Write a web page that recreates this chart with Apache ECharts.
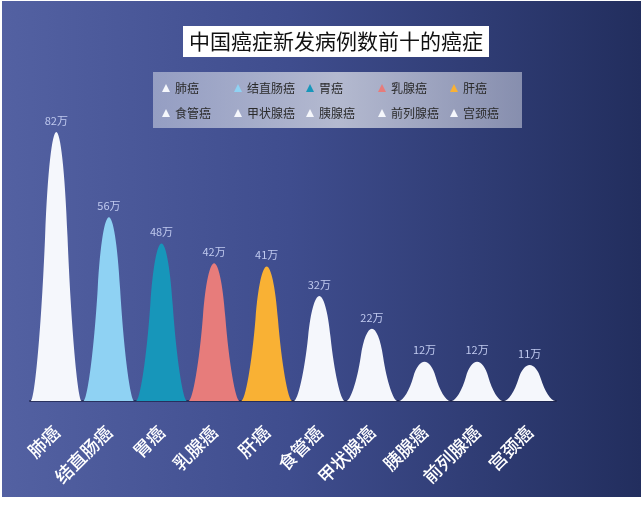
<!DOCTYPE html>
<html>
<head>
<meta charset="utf-8">
<script src="https://cdn.jsdelivr.net/npm/echarts@6/dist/echarts.min.js"></script>
<style>
html,body{margin:0;padding:0;background:#ffffff;}
#main{width:643px;height:507px;}
</style>
</head>
<body>
<div id="main"></div>
<script>
const titleText = '中国癌症新发病例数前十的癌症';
const categories = ['肺癌','结直肠癌','胃癌','乳腺癌','肝癌','食管癌','甲状腺癌','胰腺癌','前列腺癌','宫颈癌'];
const values = [82, 56, 48, 42, 41, 32, 22, 12, 12, 11];
const colors = ['#f5f7fc','#8fd2f3','#1796ba','#e77c7b','#f9b134','#f5f7fc','#f5f7fc','#f5f7fc','#f5f7fc','#f5f7fc'];
const unit = '万';

const bell = 'path://M0,100 C8,100 21,72 28,39 C33,14 42,0 50,0 C58,0 67,14 72,39 C79,72 92,100 100,100 Z';

const chart = echarts.init(document.getElementById('main'), null, {renderer:'canvas'});

const series = categories.map((name, i) => ({
  name: name,
  type: 'pictorialBar',
  symbol: bell,
  barCategoryGap: '3%',
  barGap: '-100%',
  itemStyle: { color: colors[i] },
  label: {
    show: true,
    position: 'top',
    distance: 6,
    color: '#c0caef',
    fontSize: 11,
    fontFamily: 'Noto Sans CJK SC',
    formatter: '{c}' + unit
  },
  data: categories.map((c, j) => (j === i ? values[i] : '-'))
}));

chart.setOption({
  animation: false,
  textStyle: { fontFamily: 'Noto Sans CJK SC' },
  graphic: [{
    type: 'rect',
    z: -100,
    silent: true,
    shape: { x: 2, y: 1, width: 639, height: 496 },
    style: {
      fill: new echarts.graphic.LinearGradient(0, 0, 1, 0, [
        { offset: 0, color: '#5361a2' },
        { offset: 0.45, color: '#3f4d8e' },
        { offset: 1, color: '#222e5e' }
      ])
    }
  }],
  title: {
    text: titleText,
    left: 183,
    top: 26,
    padding: [3, 6, 3, 6],
    backgroundColor: '#ffffff',
    textStyle: {
      color: '#111111',
      fontSize: 21,
      lineHeight: 25,
      fontWeight: 'normal',
      fontFamily: 'Noto Sans CJK SC'
    }
  },
  legend: {
    left: 153,
    top: 72,
    width: 355,
    padding: [9, 11, 8, 9],
    itemGap: 11,
    itemWidth: 8,
    itemHeight: 8,
    icon: 'triangle',
    data: categories,
    backgroundColor: new echarts.graphic.LinearGradient(0, 0, 1, 0, [
      { offset: 0, color: 'rgba(200,206,224,0.6)' },
      { offset: 0.5, color: 'rgba(218,221,230,0.76)' },
      { offset: 1, color: 'rgba(200,204,220,0.58)' }
    ]),
    textStyle: {
      color: '#2a2a2a',
      fontSize: 12,
      lineHeight: 14,
      width: 48,
      fontFamily: 'Noto Sans CJK SC'
    }
  },
  grid: { left: 30, right: 87, top: 73, bottom: 106 },
  xAxis: {
    type: 'category',
    data: categories,
    axisTick: { show: false },
    axisLine: { show: true, lineStyle: { color: 'rgba(25,32,70,0.7)', width: 2 } },
    axisLabel: {
      rotate: 45,
      margin: 28,
      color: '#ffffff',
      fontSize: 18,
      fontWeight: 500,
      fontFamily: 'Noto Sans CJK SC',
      interval: 0
    }
  },
  yAxis: {
    type: 'value',
    min: 0,
    max: 100,
    show: false,
    splitLine: { show: false }
  },
  series: series
});
</script>
</body>
</html>
